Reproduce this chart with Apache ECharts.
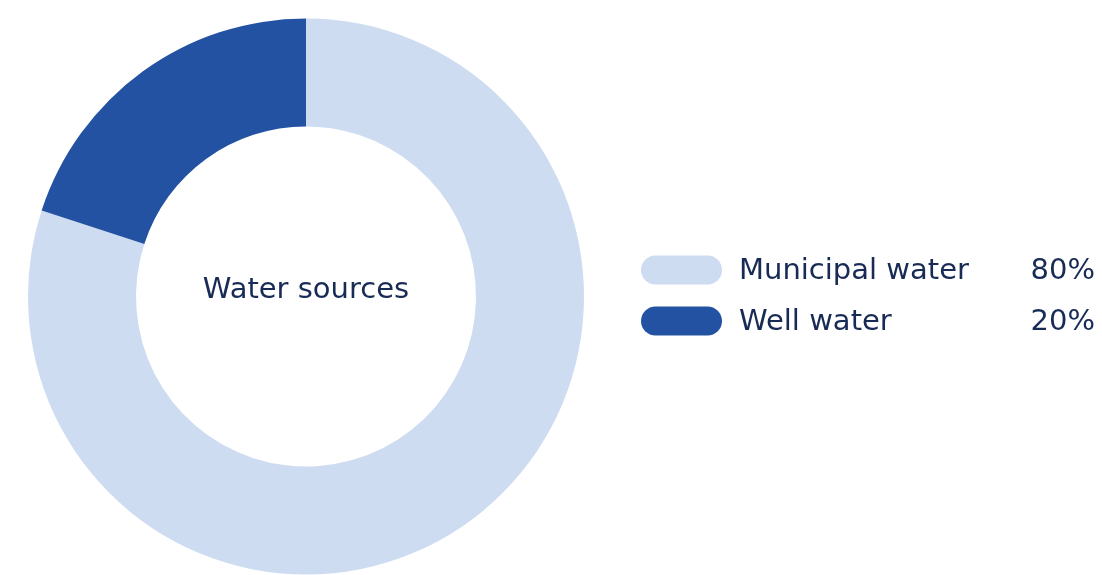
<!DOCTYPE html>
<html>
<head>
<meta charset="utf-8">
<script src="https://cdn.jsdelivr.net/npm/echarts@6/dist/echarts.min.js"></script>
<style>
html,body{margin:0;padding:0;background:#fff;}
#chart{width:1102px;height:575px;}
</style>
</head>
<body>
<div id="chart"></div>
<script>
var categories = ['Municipal water', 'Well water'];
var values = [80, 20];
var percentLabels = ['80%', '20%'];
var centerTitle = 'Water sources';

var colors = ['#CDDCF1', '#2452A3'];
var textColor = '#172B55';
var fontFam = '"DejaVu Sans", sans-serif';
var fs = 29;

var chart = echarts.init(document.getElementById('chart'), null, {renderer: 'canvas'});
var pill = 'path://M14.5,0 L66.5,0 A14.5,14.5 0 0 1 66.5,29 L14.5,29 A14.5,14.5 0 0 1 14.5,0 Z';

chart.setOption({
  animation: false,
  color: colors,
  legend: {
    orient: 'vertical',
    left: 641,
    top: 254,
    padding: 0,
    itemWidth: 81,
    itemHeight: 29,
    itemGap: 19,
    icon: pill,
    selectedMode: false,
    data: categories,
    formatter: function (name) {
      var i = categories.indexOf(name);
      return '{sp|}{name|' + name + '}{pct|' + percentLabels[i] + '}';
    },
    textStyle: {
      color: textColor,
      fontFamily: fontFam,
      fontSize: fs,
      rich: {
        sp: {width: 12},
        name: {width: 286, fontSize: fs, color: textColor, fontFamily: fontFam, lineHeight: 29, padding: [3, 0, 0, 0]},
        pct: {width: 70, align: 'right', fontSize: fs, color: textColor, fontFamily: fontFam, lineHeight: 29, padding: [3, 0, 0, 0]}
      }
    }
  },
  graphic: [{
    type: 'text',
    x: 306,
    y: 290,
    style: {
      text: centerTitle,
      align: 'center',
      verticalAlign: 'middle',
      fill: textColor,
      font: fs + 'px ' + fontFam
    }
  }],
  series: [{
    type: 'pie',
    center: [306, 296.5],
    radius: [170, 278],
    startAngle: 90,
    clockwise: true,
    silent: true,
    label: {show: false},
    labelLine: {show: false},
    itemStyle: {borderWidth: 0},
    data: categories.map(function (c, i) { return {name: c, value: values[i]}; })
  }]
});
</script>
</body>
</html>
